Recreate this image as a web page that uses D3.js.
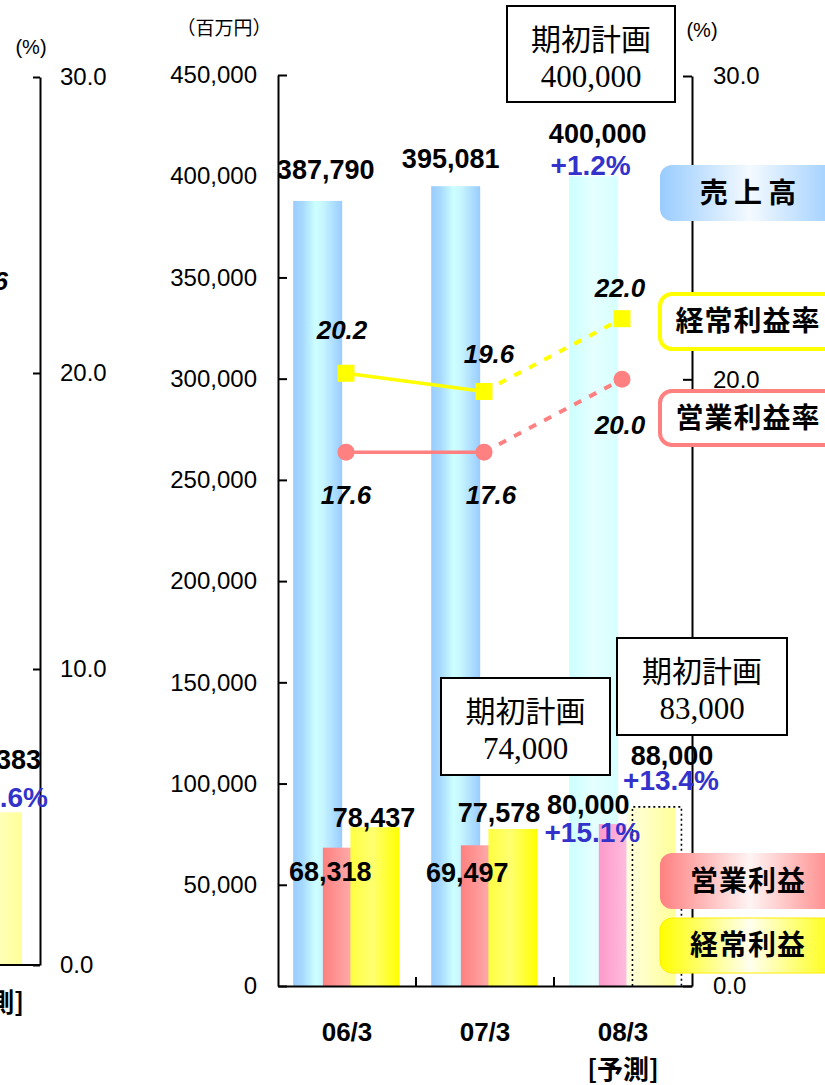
<!DOCTYPE html>
<html><head><meta charset="utf-8">
<script src="https://cdn.jsdelivr.net/npm/d3@7"></script>
<style>
html,body{margin:0;padding:0;background:#fff;}
svg{display:block;}
</style></head><body>
<svg id="chart" width="825" height="1085"></svg>
<script>
// ---------------- DATA ----------------
const categories = ["06/3", "07/3", "08/3"];
const categorySub = ["", "", "[予測]"];
const forecast = [false, false, true];
const sales = [387790, 395081, 400000];
const operatingProfit = [68318, 69497, 80000];
const ordinaryProfit = [78437, 77578, 88000];
const operatingMargin = [17.6, 17.6, 20.0];
const ordinaryMargin = [20.2, 19.6, 22.0];
const salesGrowth = ["", "", "+1.2%"];
const operatingGrowth = ["", "", "+15.1%"];
const ordinaryGrowth = ["", "", "+13.4%"];
const planLabel = "期初計画";
const planValues = [400000, 74000, 83000];
const moneyTicks = [0, 50000, 100000, 150000, 200000, 250000, 300000, 350000, 400000, 450000];
const rateTicks = [0, 10, 20, 30];
const legendLabels = ["売 上 高", "経常利益率", "営業利益率", "営業利益", "経常利益"];
// fragment of the preceding chart visible at the left edge
const prevRateTicks = [0, 10, 20, 30];
const prevOrdinaryProfit = [77383];
const prevTexts = ["6", "383", ".6%", "[予測]"];

// ---------------- SETUP ----------------
const svg = d3.select("#chart");
const SANS = "'Liberation Sans', Arial, sans-serif";
const CJK = "'Noto Sans CJK JP', sans-serif";
const SERIF = "'Liberation Serif', 'Times New Roman', serif";
const fmt = d3.format(",");

const x = d3.scaleBand().domain(categories).range([278, 692]).paddingInner(0).paddingOuter(0);
const bw = x.bandwidth();
const y = d3.scaleLinear().domain([0, 450000]).range([986, 75]);
const yR = d3.scaleLinear().domain([0, 30]).range([986, 76]);

const defs = svg.append("defs");
function grad(id, stops) {
  const g = defs.append("linearGradient").attr("id", id).attr("x1", "0%").attr("x2", "100%").attr("y1", "0%").attr("y2", "0%");
  stops.forEach(s => g.append("stop").attr("offset", s[0]).attr("stop-color", s[1]));
}
grad("gSales", [[0, "#99CCFF"], [0.2, "#A8DAFF"], [0.45, "#CCFFFF"], [0.6, "#C8F6FF"], [1, "#99CCFF"]]);
grad("gSalesF", [[0, "#CCFFFF"], [0.5, "#E6FFFF"], [1, "#D6FFFF"]]);
grad("gOp", [[0, "#FF8080"], [1, "#FFC8C8"]]);
grad("gOpF", [[0, "#FF99CC"], [1, "#FFD6EA"]]);
grad("gOrd", [[0, "#FFFF40"], [0.45, "#FFFF70"], [1, "#FFFF00"]]);
grad("gOrdF", [[0, "#FFFFE0"], [1, "#FFFF99"]]);
grad("gOrdPrev", [[0, "#FFFFE0"], [1, "#FFFF99"]]);
grad("gLegSales", [[0, "#99CCFF"], [0.5, "#F4FAFF"], [1, "#99CCFF"]]);
grad("gLegOp", [[0, "#FF8080"], [0.5, "#FFF4F4"], [1, "#FF8080"]]);
grad("gLegOrd", [[0, "#FFFF00"], [0.5, "#FFFFF0"], [1, "#FFFF00"]]);
defs.append("clipPath").attr("id", "plotClip").append("rect").attr("x", 279).attr("y", 0).attr("width", 546).attr("height", 1085);

// ---------------- FRAGMENT OF PREVIOUS CHART ----------------
const prevY = d3.scaleLinear().domain([0, 450000]).range([965, 77]);
const prevYR = d3.scaleLinear().domain([0, 30]).range([965, 77]);
const frag = svg.append("g");
frag.selectAll("rect.pbar").data(prevOrdinaryProfit).join("rect")
  .attr("x", -30).attr("width", 52)
  .attr("y", d => prevY(d)).attr("height", d => prevY(0) - prevY(d))
  .attr("fill", "url(#gOrdPrev)");
const prevAxis = d3.axisRight(prevYR).tickValues(prevRateTicks).tickFormat(d3.format(".1f"))
  .tickSize(-7).tickSizeOuter(0).tickPadding(20);
const pa = frag.append("g").attr("transform", "translate(40,0)").call(prevAxis);
pa.select(".domain").attr("stroke-width", 2);
pa.selectAll(".tick line").attr("stroke-width", 2);
pa.selectAll("text").attr("font-family", SANS).attr("font-size", 24).attr("fill", "#000");
frag.append("line").attr("x1", 0).attr("x2", 40).attr("y1", prevYR(0)).attr("y2", prevYR(0)).attr("stroke", "#000").attr("stroke-width", 2);
frag.append("text").attr("x", 31).attr("y", 47).attr("dy", "0.35em").attr("text-anchor", "middle")
  .attr("font-family", SANS).attr("font-size", 20).text("(%)");
frag.append("text").attr("x", 8).attr("y", 281).attr("dy", "0.35em").attr("text-anchor", "end")
  .attr("font-family", SANS).attr("font-size", 26).attr("font-weight", "bold").attr("font-style", "italic").text(prevTexts[0]);
frag.append("text").attr("x", 41).attr("y", 760).attr("dy", "0.35em").attr("text-anchor", "end")
  .attr("font-family", SANS).attr("font-size", 27).attr("font-weight", "bold").text(prevTexts[1]);
frag.append("text").attr("x", 48).attr("y", 797).attr("dy", "0.35em").attr("text-anchor", "end")
  .attr("font-family", SANS).attr("font-size", 28).attr("font-weight", "bold").attr("fill", "#3333CC").text(prevTexts[2]);
frag.append("text").attr("x", 24).attr("y", 1003).attr("dy", "0.35em").attr("text-anchor", "end")
  .attr("font-family", CJK).attr("font-size", 26).attr("font-weight", "bold").text(prevTexts[3]);

// ---------------- BARS ----------------
const rows = categories.map((c, i) => ({
  c, i, f: forecast[i], s: sales[i], op: operatingProfit[i], ord: ordinaryProfit[i],
  opm: operatingMargin[i], ordm: ordinaryMargin[i]
}));
const barW = bw * 0.355;
const salesX = d => x(d.c) + bw * 0.11;
const opX = d => x(d.c) + bw * 0.325;
const ordX = d => x(d.c) + bw * 0.525;
const bars = svg.append("g");
bars.selectAll("rect.sales").data(rows).join("rect").attr("class", "sales")
  .attr("x", salesX).attr("width", barW)
  .attr("y", d => y(d.s)).attr("height", d => y(0) - y(d.s))
  .attr("fill", d => d.f ? "url(#gSalesF)" : "url(#gSales)");
bars.selectAll("rect.op").data(rows).join("rect").attr("class", "op")
  .attr("x", opX).attr("width", barW)
  .attr("y", d => y(d.op)).attr("height", d => y(0) - y(d.op))
  .attr("fill", d => d.f ? "url(#gOpF)" : "url(#gOp)");
bars.selectAll("rect.ord").data(rows).join("rect").attr("class", "ord")
  .attr("x", ordX).attr("width", barW)
  .attr("y", d => y(d.ord)).attr("height", d => y(0) - y(d.ord))
  .attr("fill", d => d.f ? "url(#gOrdF)" : "url(#gOrd)");
// dotted outline for forecast ordinary profit
bars.selectAll("path.dot").data(rows.filter(d => d.f)).join("path").attr("class", "dot")
  .attr("d", d => {
    const x0 = ordX(d) + 6, x1 = ordX(d) + barW + 6, t = y(d.ord) - 1, b = y(0);
    return `M${x0},${b}V${t}H${x1}V${b}`;
  })
  .attr("fill", "none").attr("stroke", "#000").attr("stroke-width", 1.6).attr("stroke-dasharray", "2,3");

// ---------------- LINES ----------------
const cx = d => x(d.c) + bw / 2 - 1;
function drawSeries(key, color, shape) {
  const g = svg.append("g");
  const solid = rows.filter(d => !d.f);
  const dashed = rows.slice(solid.length - 1);
  const line = d3.line().x(cx).y(d => yR(d[key]));
  g.append("path").datum(solid).attr("d", line).attr("fill", "none").attr("stroke", color).attr("stroke-width", 3.5);
  g.append("path").datum(dashed).attr("d", line).attr("fill", "none").attr("stroke", color).attr("stroke-width", 4).attr("stroke-dasharray", "8,9");
  if (shape === "square") {
    g.selectAll("rect").data(rows).join("rect")
      .attr("x", d => cx(d) - 8.5).attr("y", d => yR(d[key]) - 8.5).attr("width", 17).attr("height", 17).attr("fill", color);
  } else {
    g.selectAll("circle").data(rows).join("circle")
      .attr("cx", cx).attr("cy", d => yR(d[key])).attr("r", 8.5).attr("fill", color);
  }
}
drawSeries("opm", "#FF8080", "circle");
drawSeries("ordm", "#FFFF00", "square");

// ---------------- AXES ----------------
const leftAxis = d3.axisLeft(y).tickValues(moneyTicks).tickFormat(fmt).tickSize(-9).tickSizeOuter(0).tickPadding(21);
const la = svg.append("g").attr("transform", "translate(278,0)").call(leftAxis);
const rightAxis = d3.axisRight(yR).tickValues(rateTicks).tickFormat(d3.format(".1f")).tickSize(-9).tickSizeOuter(0).tickPadding(21);
const ra = svg.append("g").attr("transform", "translate(692,0)").call(rightAxis);
[la, ra].forEach(a => {
  a.select(".domain").attr("stroke-width", 2);
  a.selectAll(".tick line").attr("stroke-width", 2);
  a.selectAll("text").attr("font-family", SANS).attr("font-size", 24).attr("fill", "#000");
});
const bottomAxis = d3.axisBottom(x).tickSize(0).tickSizeOuter(0).tickPadding(37).tickFormat(d => d);
const ba = svg.append("g").attr("transform", `translate(0,${y(0)})`).call(bottomAxis);
ba.select(".domain").attr("stroke-width", 2);
ba.selectAll("text").attr("font-family", SANS).attr("font-size", 26).attr("font-weight", "bold").attr("fill", "#000");
ba.selectAll(".tick").append("text").attr("y", 93).attr("text-anchor", "middle").attr("fill", "#000")
  .attr("font-family", CJK).attr("font-size", 26).attr("font-weight", "bold")
  .text((d, i) => categorySub[i]);
// category separator ticks
svg.append("g").selectAll("line").data(categories.slice(1)).join("line")
  .attr("x1", d => x(d)).attr("x2", d => x(d)).attr("y1", y(0) - 9).attr("y2", y(0))
  .attr("stroke", "#000").attr("stroke-width", 2);
svg.append("text").attr("x", 224).attr("y", 28).attr("dy", "0.35em").attr("text-anchor", "middle")
  .attr("font-family", CJK).attr("font-size", 19).text("（百万円）");
svg.append("text").attr("x", 702).attr("y", 30).attr("dy", "0.35em").attr("text-anchor", "middle")
  .attr("font-family", SANS).attr("font-size", 20).text("(%)");

// ---------------- PLAN BOXES ----------------
const planBoxes = [
  { v: planValues[0], x: 507, y: 6, w: 168, h: 96 },
  { v: planValues[1], x: 441, y: 678, w: 169, h: 97 },
  { v: planValues[2], x: 617, y: 638, w: 170, h: 97 }
];
const pb = svg.append("g").selectAll("g").data(planBoxes).join("g");
pb.append("rect").attr("x", d => d.x).attr("y", d => d.y).attr("width", d => d.w).attr("height", d => d.h)
  .attr("fill", "#fff").attr("stroke", "#000").attr("stroke-width", 2);
pb.append("text").attr("x", d => d.x + d.w / 2).attr("y", d => d.y + 33).attr("dy", "0.35em").attr("text-anchor", "middle")
  .attr("font-family", CJK).attr("font-size", 30).text(planLabel);
pb.append("text").attr("x", d => d.x + d.w / 2).attr("y", d => d.y + 70).attr("dy", "0.35em").attr("text-anchor", "middle")
  .attr("font-family", SERIF).attr("font-size", 31).text(d => fmt(d.v));

// ---------------- VALUE LABELS ----------------
const lab = svg.append("g").attr("clip-path", "url(#plotClip)");
function label(xp, yp, txt, opts = {}) {
  lab.append("text").attr("x", xp).attr("y", yp).attr("dy", "0.35em").attr("text-anchor", "middle")
    .attr("font-family", SANS).attr("font-weight", "bold").attr("font-size", opts.size || 27)
    .attr("font-style", opts.italic ? "italic" : "normal").attr("fill", opts.color || "#000").text(txt);
}
const salesDx = [8, -5, 4], salesDy = [-31, -28, -43];
const opDx = [-17, -18, -35], opDy = [24, 27, -19];
const ordDx = [-1, -14, 21], ordDy = [-10, -16, -52];
const ordmDx = [-4, 5, -2], ordmDy = [-43, -38, -31];
const opmDx = [0, 7, -2], opmDy = [43, 43, 46];
rows.forEach((d, i) => {
  label(salesX(d) + barW / 2 + salesDx[i], y(d.s) + salesDy[i], fmt(d.s));
  if (salesGrowth[i]) label(salesX(d) + barW / 2 - 3, y(d.s) - 11, salesGrowth[i], { color: "#3333CC", size: 28 });
  label(opX(d) + barW / 2 + opDx[i], y(d.op) + opDy[i], fmt(d.op));
  if (operatingGrowth[i]) label(opX(d) + barW / 2 - 31, y(d.op) + 8, operatingGrowth[i], { color: "#3333CC", size: 28 });
  label(ordX(d) + barW / 2 + ordDx[i], y(d.ord) + ordDy[i], fmt(d.ord));
  if (ordinaryGrowth[i]) label(ordX(d) + barW / 2 + 20, y(d.ord) - 28, ordinaryGrowth[i], { color: "#3333CC", size: 28 });
  label(cx(d) + ordmDx[i], yR(d.ordm) + ordmDy[i], d.ordm.toFixed(1), { italic: true, size: 26 });
  label(cx(d) + opmDx[i], yR(d.opm) + opmDy[i], d.opm.toFixed(1), { italic: true, size: 26 });
});

// ---------------- LEGEND BOXES ----------------
const legendBoxes = [
  { t: legendLabels[0], y: 165, h: 56, fill: "url(#gLegSales)", stroke: "none", sw: 0, ls: 0 },
  { t: legendLabels[1], y: 294, h: 55, fill: "#fff", stroke: "#FFFF00", sw: 4, ls: 1 },
  { t: legendLabels[2], y: 391, h: 54, fill: "#fff", stroke: "#FF8080", sw: 4, ls: 1 },
  { t: legendLabels[3], y: 853, h: 56, fill: "url(#gLegOp)", stroke: "none", sw: 0, ls: 1 },
  { t: legendLabels[4], y: 918, h: 55, fill: "url(#gLegOrd)", stroke: "#FFEE00", sw: 1, ls: 1 }
];
const lg = svg.append("g").selectAll("g").data(legendBoxes).join("g");
lg.append("rect").attr("x", 660).attr("y", d => d.y).attr("width", 180).attr("height", d => d.h)
  .attr("rx", 12).attr("fill", d => d.fill).attr("stroke", d => d.stroke).attr("stroke-width", d => d.sw);
lg.append("text").attr("x", 748).attr("y", d => d.y + d.h / 2).attr("dy", "0.35em").attr("text-anchor", "middle")
  .attr("font-family", CJK).attr("font-weight", "bold").attr("font-size", 28)
  .attr("letter-spacing", d => d.ls).text(d => d.t);
</script>
</body></html>
